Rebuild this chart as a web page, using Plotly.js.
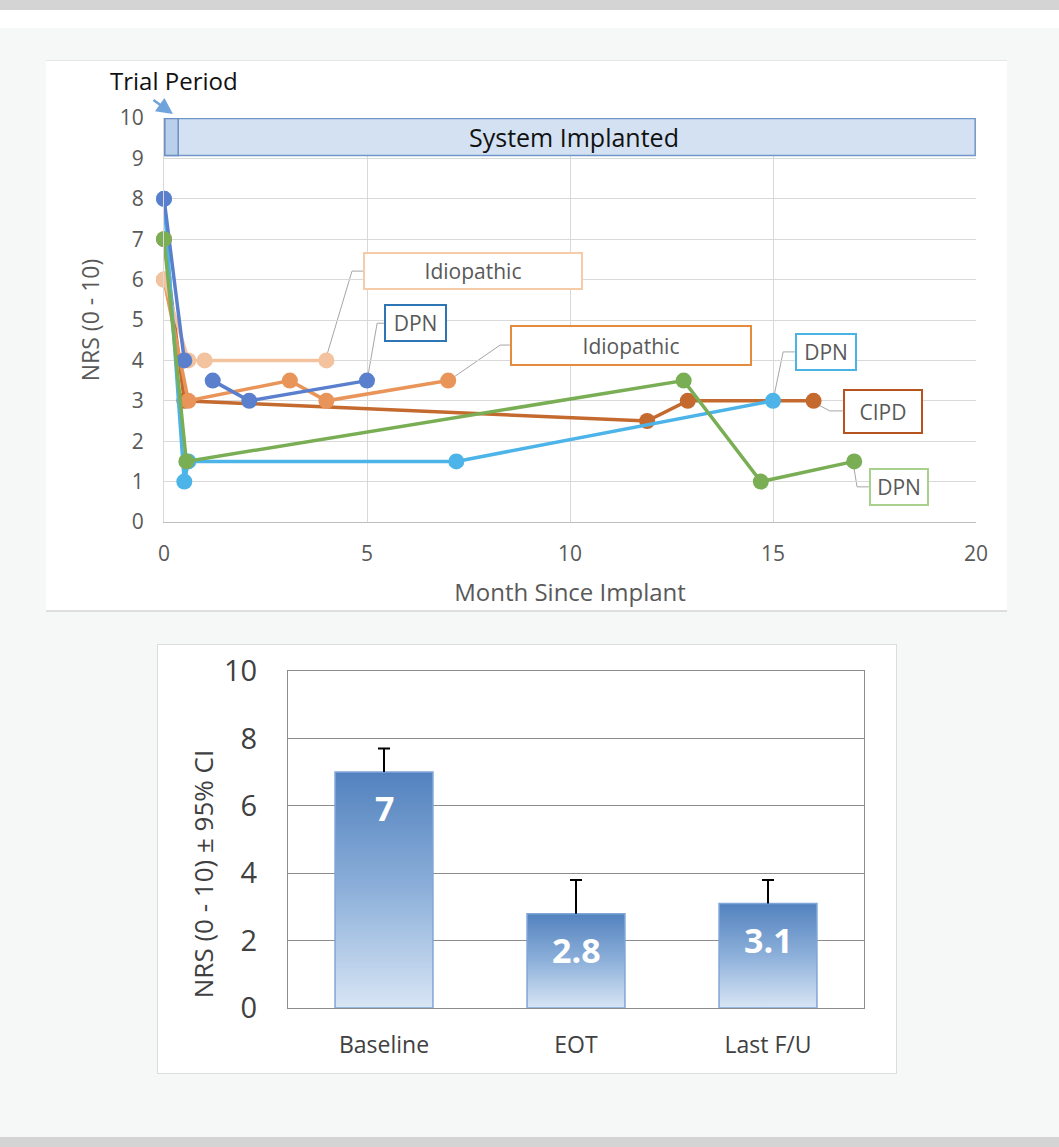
<!DOCTYPE html>
<html><head><meta charset="utf-8">
<script src="https://cdn.plot.ly/plotly-3.0.1.min.js"></script>
<style>
html,body{margin:0;padding:0;}
body{width:1059px;height:1147px;background:#f6f8f8;position:relative;overflow:hidden;font-family:"Open Sans";}
#topband{position:absolute;left:0;top:0;width:1059px;height:10px;background:#d4d4d4;}
#whiteband{position:absolute;left:0;top:10px;width:1059px;height:18px;background:#fff;}
#botband{position:absolute;left:0;top:1137px;width:1059px;height:10px;background:#d4d4d4;}
#p1{position:absolute;left:46px;top:60px;width:961px;height:552px;background:#fff;border-top:1px solid #e6e6e6;border-bottom:2px solid #dedede;box-sizing:border-box;}
#p2{position:absolute;left:157px;top:644px;width:740px;height:430px;background:#fff;border:1px solid #dcdcdc;box-sizing:border-box;}
#c1{position:absolute;left:0;top:-1px;width:961px;height:551px;}
#c2{position:absolute;left:-1px;top:-1px;width:740px;height:429px;}
</style></head>
<body>
<div id="topband"></div><div id="whiteband"></div><div id="botband"></div>
<div id="p1"><div id="c1"></div></div>
<div id="p2"><div id="c2"></div></div>
<script>
// ---------- Top chart data (months since implant, NRS) ----------
const idioPeachMonths = [0, 0.6, 1, 4];
const idioPeachNRS    = [6, 4, 4, 4];
const dpnBlueMonths   = [0, 0.5, null, 1.2, 2.1, 5];
const dpnBlueNRS      = [8, 4, null, 3.5, 3, 3.5];
const idioOrangeMonths= [0, 0.6, 3.1, 4, 7];
const idioOrangeNRS   = [6, 3, 3.5, 3, 3.5];
const cipdMonths      = [0, 0.5, 11.9, 12.9, 16];
const cipdNRS         = [7, 3, 2.5, 3, 3];
const dpnSkyMonths    = [0, 0.5, 0.6, 7.2, 15];
const dpnSkyNRS       = [8, 1, 1.5, 1.5, 3];
const dpnGreenMonths  = [0, 0.55, 12.8, 14.7, 17];
const dpnGreenNRS     = [7, 1.5, 3.5, 1, 1.5];
const topXTicks = [0, 5, 10, 15, 20];
const topYTicks = [0,1,2,3,4,5,6,7,8,9,10];

// ---------- Bottom chart data ----------
const phases   = ['Baseline', 'EOT', 'Last F/U'];
const meanNRS  = [7, 2.8, 3.1];
const ciPlus   = [0.7, 1.0, 0.7];
const meanText = ['7', '2.8', '3.1'];
const botYTicks = [0, 2, 4, 6, 8, 10];

const FONT = '"Open Sans", "Noto Sans", sans-serif';
const GREY = '#595959';

function series(x, y, color, name) {
  return {x: x, y: y, name: name, type: 'scatter', mode: 'lines+markers',
    connectgaps: false, cliponaxis: false, line: {color: color, width: 3.5},
    marker: {color: color, size: 16}, hoverinfo: 'x+y'};
}

const topTraces = [
  series(cipdMonths, cipdNRS, '#C46A2E', 'CIPD'),
  series(idioOrangeMonths, idioOrangeNRS, '#E9955A', 'Idiopathic'),
  series(idioPeachMonths, idioPeachNRS, '#F3C29E', 'Idiopathic'),
  series(dpnSkyMonths, dpnSkyNRS, '#4CB4E8', 'DPN'),
  series(dpnBlueMonths, dpnBlueNRS, '#5A7FCC', 'DPN'),
  series(dpnGreenMonths, dpnGreenNRS, '#79AE55', 'DPN')
];

// callout boxes: [text, x, y, width, height, border colour]
const callouts = [
  ['Idiopathic', 7.61, 6.21, 216, 34, '#F5CBA8'],
  ['DPN',        6.19, 4.93, 59, 34, '#2E75B6'],
  ['Idiopathic', 11.50, 4.37, 238, 37, '#E58B3E'],
  ['DPN',        16.31, 4.21, 58, 34, '#4BB4E6'],
  ['CIPD',       17.71, 2.74, 76, 41, '#B5541F'],
  ['DPN',        18.10, 0.87, 56, 34, '#A9D18E']
];
// leader lines (x0,y0,x1,y1,x2,y2)
const leaders = [
  [3.97, 3.99, 4.63, 6.21, 4.90, 6.21],
  [5.0, 3.49, 5.25, 4.92, 5.42, 4.92],
  [7.0, 3.49, 8.28, 4.38, 8.52, 4.38],
  [15.0, 3.0, 15.25, 4.21, 15.54, 4.21],
  [15.98, 2.97, 16.4, 2.75, 16.72, 2.75],
  [16.97, 1.49, 17.07, 0.87, 17.36, 0.87]
];

const topShapes = leaders.map(l => ({
  type: 'path', xref: 'x', yref: 'y', layer: 'below',
  path: 'M' + l[0] + ',' + l[1] + ' L' + l[2] + ',' + l[3] + ' L' + l[4] + ',' + l[5],
  line: {color: '#A6A6A6', width: 1}
}));
topShapes.push({type: 'rect', xref: 'x', yref: 'y', x0: 0.02, x1: 19.98, y0: 9.07, y1: 9.985,
  fillcolor: '#D3E1F2', line: {color: '#7196C9', width: 1.5}, layer: 'above'});
topShapes.push({type: 'rect', xref: 'x', yref: 'y', x0: 0.02, x1: 0.35, y0: 9.07, y1: 9.985,
  fillcolor: '#B9CFEA', line: {color: '#6A8FC4', width: 1.5}, layer: 'above'});

const topAnn = callouts.map(c => ({
  x: c[1], y: c[2], xref: 'x', yref: 'y', text: c[0], showarrow: false,
  width: c[3], height: c[4], bgcolor: '#ffffff', bordercolor: c[5], borderwidth: 2, borderpad: 0,
  font: {family: FONT, size: 21, color: GREY}
}));
topAnn.push({x: 10.1, y: 9.53, xref: 'x', yref: 'y', text: 'System Implanted', showarrow: false,
  font: {family: FONT, size: 25, color: '#111111'}});
topAnn.push({x: 0.25, y: 1.094, xref: 'x', yref: 'paper', text: 'Trial Period', showarrow: false,
  xanchor: 'center', yanchor: 'middle', font: {family: FONT, size: 24, color: '#111111'}});
topAnn.push({x: 0.22, y: 1.01, xref: 'x', yref: 'paper', text: '', showarrow: true,
  ax: -21, ay: -15, arrowcolor: '#6FA3DB', arrowhead: 2, arrowsize: 1.3, arrowwidth: 2.5});

const topLayout = {
  width: 961, height: 551,
  margin: {l: 118, r: 31, t: 58, b: 89},
  paper_bgcolor: 'rgba(0,0,0,0)', plot_bgcolor: '#ffffff',
  showlegend: false,
  font: {family: FONT, color: GREY},
  xaxis: {range: [0, 20], tickvals: topXTicks, showgrid: true, gridcolor: '#D9D9D9', gridwidth: 1,
    zeroline: false, showline: true, linecolor: '#BFBFBF', linewidth: 1, ticks: '',
    ticklabelstandoff: 13, tickfont: {family: FONT, size: 21, color: GREY},
    title: {text: 'Month Since Implant', font: {family: FONT, size: 24, color: GREY}, standoff: 17}},
  yaxis: {range: [0, 10], tickvals: topYTicks, showgrid: true, gridcolor: '#D9D9D9', gridwidth: 1,
    zeroline: false, showline: true, linecolor: '#D9D9D9', ticks: '',
    ticklabelstandoff: 15, tickfont: {family: FONT, size: 21, color: GREY},
    title: {text: 'NRS (0 - 10)', font: {family: FONT, size: 23, color: GREY}, standoff: 13}},
  shapes: topShapes,
  annotations: topAnn
};

Plotly.newPlot('c1', topTraces, topLayout, {staticPlot: true, displayModeBar: false});

// ---------- Bottom chart ----------
const botTrace = {
  type: 'bar', x: phases, y: meanNRS,
  marker: {color: '#8EB0DB', line: {color: '#7FA6D8', width: 1.5}},
  error_y: {type: 'data', symmetric: false, array: ciPlus, arrayminus: [0, 0, 0],
    color: '#000000', thickness: 2, width: 6},
  hoverinfo: 'x+y'
};
const botAnn = phases.map((p, i) => ({
  x: p, y: meanNRS[i], xref: 'x', yref: 'y', text: '<b>' + meanText[i] + '</b>', showarrow: false,
  yshift: -36, font: {family: FONT, size: 34, color: '#ffffff'}
}));
botAnn.push({x: -0.147, y: 0.398, xref: 'paper', yref: 'paper', text: 'NRS (0 - 10) ± 95% CI',
  textangle: -90, showarrow: false, xanchor: 'center', yanchor: 'middle',
  font: {family: FONT, size: 26, color: '#404040'}});
const botLayout = {
  width: 740, height: 429,
  margin: {l: 131, r: 33, t: 27, b: 65},
  paper_bgcolor: 'rgba(0,0,0,0)', plot_bgcolor: '#ffffff',
  showlegend: false, bargap: 0.49,
  font: {family: FONT, color: '#404040'},
  xaxis: {showline: true, linecolor: '#8C8C8C', linewidth: 1, mirror: true, ticks: '',
    ticklabelstandoff: 16, tickfont: {family: FONT, size: 23, color: '#404040'}},
  yaxis: {range: [0, 10], tickvals: botYTicks, showgrid: true, gridcolor: '#8C8C8C', gridwidth: 1,
    zeroline: false, showline: true, linecolor: '#8C8C8C', mirror: true, ticks: '',
    ticklabelstandoff: 24, tickfont: {family: FONT, size: 29, color: '#404040'}},
  annotations: botAnn
};

Plotly.newPlot('c2', [botTrace], botLayout, {staticPlot: true, displayModeBar: false}).then(gd => {
  const ns = 'http://www.w3.org/2000/svg';
  const svg = gd.querySelector('svg.main-svg');
  let defs = svg.querySelector('defs');
  if (!defs) { defs = document.createElementNS(ns, 'defs'); svg.insertBefore(defs, svg.firstChild); }
  const lg = document.createElementNS(ns, 'linearGradient');
  lg.setAttribute('id', 'barGrad');
  lg.setAttribute('x1', '0'); lg.setAttribute('y1', '0');
  lg.setAttribute('x2', '0'); lg.setAttribute('y2', '1');
  [['0', '#5282BE'], ['0.5', '#8DB0DA'], ['1', '#D8E5F4']].forEach(s => {
    const st = document.createElementNS(ns, 'stop');
    st.setAttribute('offset', s[0]); st.setAttribute('stop-color', s[1]);
    lg.appendChild(st);
  });
  defs.appendChild(lg);
  gd.querySelectorAll('.bars .point path').forEach(p => { p.style.fill = 'url(#barGrad)'; });
  // plus-only error bars: drop the lower cap (Excel style)
  gd.querySelectorAll('.errorbar path.yerror').forEach(p => {
    const d = p.getAttribute('d');
    if (d) p.setAttribute('d', d.replace(/m-?[\d.]+,0h[\d.]+\s*$/, ''));
  });
});
</script>
</body></html>
